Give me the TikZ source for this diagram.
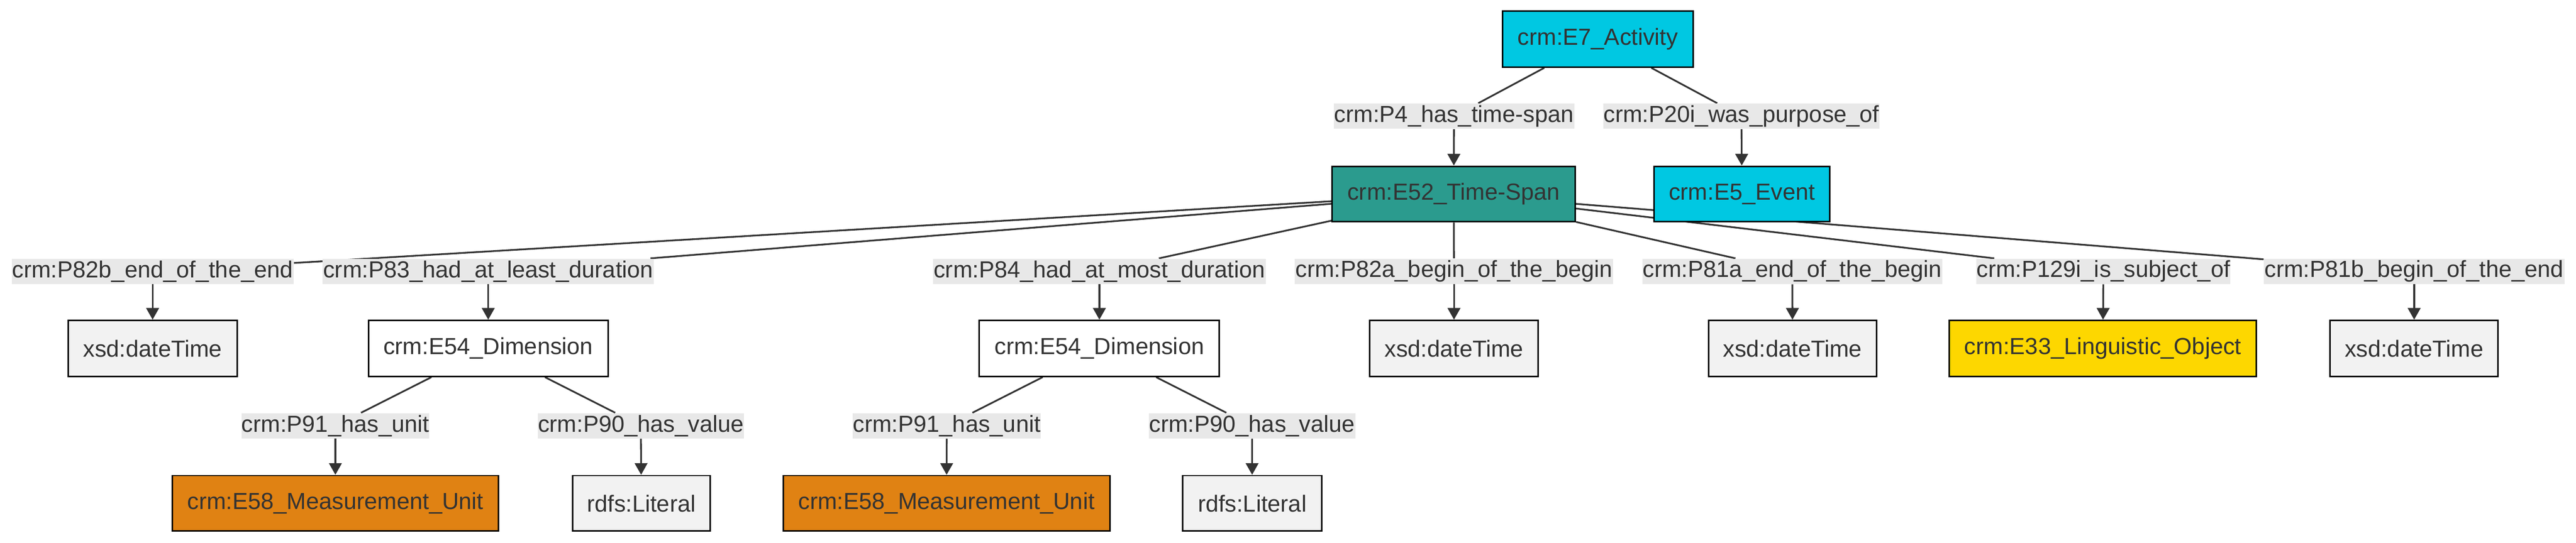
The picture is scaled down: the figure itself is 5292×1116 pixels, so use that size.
\documentclass[tikz,border=0pt]{standalone}
\usepackage{fontspec}
\setmainfont{Liberation Sans}
\usetikzlibrary{arrows.meta,backgrounds}
\definecolor{txt}{HTML}{333333}
\definecolor{lblbg}{HTML}{E8E8E8}
\definecolor{cyanc}{HTML}{00C8E2}
\definecolor{tealc}{HTML}{2B9B8E}
\definecolor{orangec}{HTML}{E08213}
\definecolor{goldc}{HTML}{FDD700}
\definecolor{litc}{HTML}{F2F2F2}
\begin{document}
\begin{tikzpicture}[x=0.01cm,y=-0.01cm,
  box/.style={draw=black, line width=0.9pt, text=txt, inner sep=0pt,
    font=\fontsize{13.6}{16}\selectfont, minimum height=1.15cm},
  lbl/.style={fill=lblbg, text=txt, inner sep=0pt,
    font=\fontsize{13.6}{16}\selectfont, minimum height=0.52cm},
  edge/.style={draw=txt, line width=1pt},
  arr/.style={edge, -{Triangle[length=0.24cm,width=0.26cm]}}]
\useasboundingbox (0,0) rectangle (5292,1116);

% boxes
\node[box, fill=cyanc, minimum width=3.91cm] (e7) at (3282.5,80.5) {crm:E7\_Activity};
\node[box, fill=tealc, minimum width=4.99cm, minimum height=1.14cm] (e52) at (2986.5,399) {crm:E52\_Time-Span};
\node[box, fill=cyanc, minimum width=3.61cm, minimum height=1.14cm] (e5) at (3578.5,399) {crm:E5\_Event};

\node[box, fill=litc, minimum width=3.47cm] (x1) at (313.5,716.5) {xsd:dateTime};
\node[box, fill=white, minimum width=4.92cm] (d1) at (1003,716.5) {crm:E54\_Dimension};
\node[box, fill=white, minimum width=4.93cm] (d2) at (2258.5,716.5) {crm:E54\_Dimension};
\node[box, fill=litc, minimum width=3.46cm] (x2) at (2987,716.5) {xsd:dateTime};
\node[box, fill=litc, minimum width=3.45cm] (x3) at (3682.5,716.5) {xsd:dateTime};
\node[box, fill=goldc, minimum width=6.30cm] (e33) at (4320,716.5) {crm:E33\_Linguistic\_Object};
\node[box, fill=litc, minimum width=3.45cm] (x4) at (4959.5,716.5) {xsd:dateTime};

\node[box, fill=orangec, minimum width=6.70cm, minimum height=1.14cm] (u1) at (689,1035) {crm:E58\_Measurement\_Unit};
\node[box, fill=litc, minimum width=2.83cm, minimum height=1.14cm] (r1) at (1317.5,1035) {rdfs:Literal};
\node[box, fill=orangec, minimum width=6.71cm, minimum height=1.14cm] (u2) at (1944.5,1035) {crm:E58\_Measurement\_Unit};
\node[box, fill=litc, minimum width=2.85cm, minimum height=1.14cm] (r2) at (2572.5,1035) {rdfs:Literal};

% labels
\node[lbl, minimum width=4.94cm] (lp4) at (2987,239) {crm:P4\_has\_time-span};
\node[lbl, minimum width=5.67cm] (lp20) at (3577.5,239) {crm:P20i\_was\_purpose\_of};

\node[lbl, minimum width=5.79cm] (lp82b) at (313.5,558) {crm:P82b\_end\_of\_the\_end};
\node[lbl, minimum width=6.80cm] (lp83) at (1003,558) {crm:P83\_had\_at\_least\_duration};
\node[lbl, minimum width=6.83cm] (lp84) at (2258.5,558) {crm:P84\_had\_at\_most\_duration};
\node[lbl, minimum width=6.54cm] (lp82a) at (2987,558) {crm:P82a\_begin\_of\_the\_begin};
\node[lbl, minimum width=6.16cm] (lp81a) at (3682,558) {crm:P81a\_end\_of\_the\_begin};
\node[lbl, minimum width=5.22cm] (lp129) at (4321,558) {crm:P129i\_is\_subject\_of};
\node[lbl, minimum width=6.17cm] (lp81b) at (4959.5,558) {crm:P81b\_begin\_of\_the\_end};

\node[lbl, minimum width=3.86cm] (lp91a) at (689,875.5) {crm:P91\_has\_unit};
\node[lbl, minimum width=4.23cm] (lp90a) at (1316.5,875.5) {crm:P90\_has\_value};
\node[lbl, minimum width=3.86cm] (lp91b) at (1945,875.5) {crm:P91\_has\_unit};
\node[lbl, minimum width=4.24cm] (lp90b) at (2572,875.5) {crm:P90\_has\_value};

\begin{scope}[on background layer]
\draw[edge] (e7) -- (lp4);
\draw[arr] (lp4) -- (e52);
\draw[edge] (e7) -- (lp20);
\draw[arr] (lp20) -- (e5);

\foreach \l/\t in {lp82b/x1, lp83/d1, lp84/d2, lp82a/x2, lp81a/x3, lp129/e33, lp81b/x4}{
  \draw[edge] (e52) -- (\l);
  \draw[arr] (\l) -- (\t);
}
\draw[edge] (d1) -- (lp91a);
\draw[arr] (lp91a) -- (u1);
\draw[edge] (d1) -- (lp90a);
\draw[arr] (lp90a) -- (r1);
\draw[edge] (d2) -- (lp91b);
\draw[arr] (lp91b) -- (u2);
\draw[edge] (d2) -- (lp90b);
\draw[arr] (lp90b) -- (r2);
\end{scope}
\end{tikzpicture}
\end{document}
